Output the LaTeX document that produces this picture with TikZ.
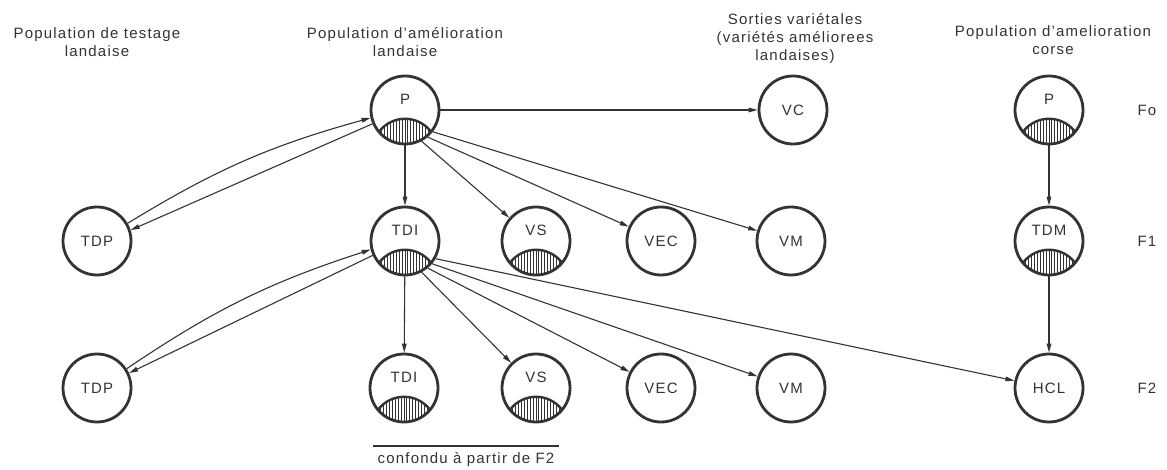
\documentclass[tikz,border=0pt]{standalone}
\usepackage{fontspec}
\setmainfont{Liberation Sans}[LetterSpace=8]
\usetikzlibrary{arrows.meta}
\definecolor{ink}{HTML}{333333}
\newcommand\hatchlens[1]{%
  \begin{scope}[shift={(#1.center)}]
    \begin{scope}
      \clip (0,0) circle[radius=34];
      \clip (0,-41.4) circle[radius=32.6];
      \foreach \i in {-12,...,12}
        \draw[ink, line width=1pt] (\i*2.9,-36) -- (\i*2.9,0);
    \end{scope}
    \begin{scope}
      \clip (0,0) circle[radius=34];
      \draw[ink, line width=2.4pt] (0,-41.4) circle[radius=32.6];
    \end{scope}
  \end{scope}}
\tikzset{
  pop/.style={circle, draw=ink, line width=2.8pt, minimum size=68pt, inner sep=0pt,
    text=ink, font=\fontsize{15}{18}\selectfont, text height=11pt, text depth=0pt},
  hatched/.style={pop, text depth=22pt},
  conn/.style={draw=ink, line width=1.1pt, -{Triangle[length=9pt,width=4.6pt]}},
  head/.style={align=center, text=ink, font=\fontsize{15}{18}\selectfont},
  gen/.style={text=ink, font=\fontsize{15}{18}\selectfont, anchor=west},
}
\begin{document}
\begin{tikzpicture}[x=1pt,y=1pt]
\useasboundingbox (0,0) rectangle (1167,469);
% headers
\node[head] (h1) at (97,427) {Population de testage\\landaise};
\node[head] (h2) at (405,427) {Population d'amélioration\\landaise};
\node[head] (h3) at (795,430) {Sorties variétales\\(variétés améliorees\\landaises)};
\node[head] (h4) at (1053,429) {Population d'amelioration\\corse};
% row 1
\node[hatched] (P) at (405,359) {P};
\node[pop] (VC) at (793,359) {VC};
\node[hatched] (Pc) at (1049,359) {P};
% row 2
\node[pop] (TDPa) at (97,228) {TDP};
\node[hatched] (TDIa) at (405,228) {TDI};
\node[hatched] (VSa) at (536,228) {VS};
\node[pop] (VECa) at (661,228) {VEC};
\node[pop] (VMa) at (791,228) {VM};
\node[hatched] (TDM) at (1049,228) {TDM};
% row 3
\node[pop] (TDPb) at (97,81) {TDP};
\node[hatched] (TDIb) at (404,81) {TDI};
\node[hatched] (VSb) at (536,81) {VS};
\node[pop] (VECb) at (661,81) {VEC};
\node[pop] (VMb) at (791,81) {VM};
\node[pop] (HCL) at (1049,81) {HCL};
% hatched lenses
\foreach \n in {P,Pc,TDIa,VSa,TDM,TDIb,VSb} {\hatchlens{\n}}
% generations
\node[gen] (F0) at (1134,359) {Fo};
\node[gen] (F1) at (1134,228) {F1};
\node[gen] (F2) at (1134,81) {F2};
% connectors from P
\draw[conn] (P) -- (VC);
\draw[conn] (P) -- (TDIa);
\draw[conn] (P.-62) -- (VSa);
\draw[conn] (P.-50) -- (VECa);
\draw[conn] (P.-38) -- (VMa);
\draw[conn] (TDPa.30) to[bend left=8] (P.193);
\draw[conn] (P.203) -- (TDPa.18);
% connectors from TDI
\draw[conn] (TDIa) -- (TDIb);
\draw[conn] (TDIa.-62) -- (VSb);
\draw[conn] (TDIa.-50) -- (VECb);
\draw[conn] (TDIa.-40) -- (VMb);
\draw[conn] (TDIa.-30) -- (HCL);
\draw[conn] (TDPb.33) to[bend left=8] (TDIa.194);
\draw[conn] (TDIa.204) -- (TDPb.25);
% corse
\draw[conn] (Pc) -- (TDM);
\draw[conn] (TDM) -- (HCL);
% bottom note
\node[head] (conf) at (466,9) {confondu à partir de F2};
\draw[ink, line width=1.1pt] (373,23) -- (559,23);
\end{tikzpicture}
\end{document}
